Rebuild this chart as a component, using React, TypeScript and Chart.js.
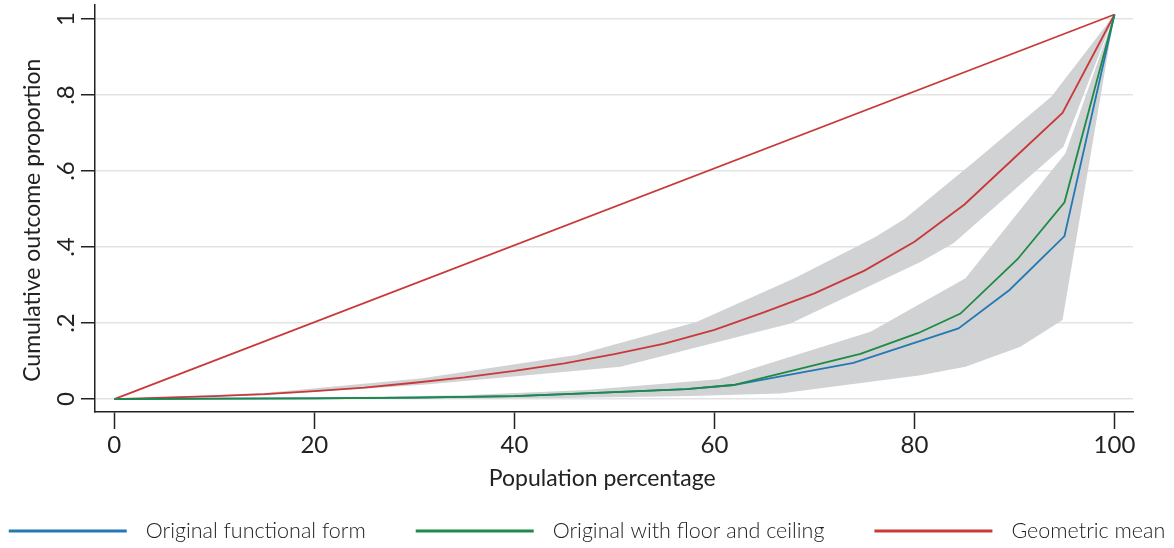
import React, { useEffect, useRef } from "react";
import { Chart, registerables } from "chart.js";

Chart.register(...registerables);

// ---- Data ----
const xTicks = [0, 20, 40, 60, 80, 100];
const yTicks = [0, 0.2, 0.4, 0.6, 0.8, 1];
const yTickLabels = ["0", ".2", ".4", ".6", ".8", "1"];

const seriesNames = ["Original functional form", "Original with floor and ceiling", "Geometric mean"];
const seriesColors = ["#2479b3", "#1d8a45", "#c9393a"];
const bandColor = "#d1d2d4";

const xTitle = "Population percentage";
const yTitle = "Cumulative outcome proportion";

const equalityX = [0, 100];
const equalityY = [0, 1.012];

const blueX = [0, 10, 20, 30, 40, 47, 57.2, 61.9, 73.9, 84.4, 89.5, 95, 100];
const blueY = [0, 0.001, 0.002, 0.004, 0.008, 0.015, 0.026, 0.037, 0.095, 0.186, 0.287, 0.429, 1.012];

const greenX = [0, 10, 20, 30, 40, 47, 57.2, 61.9, 74.6, 80.4, 84.6, 90.3, 95, 100];
const greenY = [0, 0.001, 0.002, 0.004, 0.008, 0.015, 0.026, 0.037, 0.119, 0.174, 0.225, 0.368, 0.518, 1.012];

const geoX = [0, 5, 10, 15, 20, 25, 30, 35, 40, 45, 50, 55, 60, 65, 70, 75, 80, 85, 90, 94.8, 100];
const geoY = [0, 0.004, 0.008, 0.013, 0.021, 0.03, 0.043, 0.057, 0.074, 0.094, 0.118, 0.146, 0.182, 0.229, 0.278, 0.338, 0.414, 0.512, 0.635, 0.753, 1.012];

const geoUpperX = [0, 15, 30.6, 46.2, 58.2, 68, 76, 79, 86, 93.7, 100];
const geoUpperY = [0, 0.016, 0.054, 0.116, 0.203, 0.318, 0.425, 0.474, 0.625, 0.796, 1.012];
const geoLowerX = [0, 15, 30.6, 50.6, 67.6, 80.6, 83.9, 94.9, 100];
const geoLowerY = [0, 0.01, 0.037, 0.085, 0.199, 0.361, 0.41, 0.664, 1.012];

const origUpperX = [0, 20, 35, 47.2, 60.4, 75.6, 85.1, 95.1, 100];
const origUpperY = [0, 0.004, 0.01, 0.024, 0.052, 0.177, 0.318, 0.647, 1.012];
const origLowerX = [0, 30, 45, 57.6, 66.6, 80.6, 85.1, 90.6, 94.8, 100];
const origLowerY = [0, 0.0005, 0.003, 0.008, 0.015, 0.063, 0.085, 0.138, 0.208, 1.012];

const pts = (xs: number[], ys: number[]) => xs.map((x, i) => ({ x, y: ys[i] }));

const FONT = "Lato";
const TEXT = "#222222";
const AXIS = "#222222";

const lineDs = (label: string, xs: number[], ys: number[], color: string, order: number) => ({
  label,
  data: pts(xs, ys),
  borderColor: color,
  backgroundColor: color,
  borderWidth: 1.8,
  pointRadius: 0,
  pointHoverRadius: 0,
  tension: 0,
  fill: false,
  order,
});

const bandDs = (label: string, xs: number[], ys: number[], order: number, fill: any) => ({
  label,
  data: pts(xs, ys),
  borderWidth: 0,
  borderColor: "rgba(0,0,0,0)",
  backgroundColor: bandColor,
  pointRadius: 0,
  pointHoverRadius: 0,
  tension: 0,
  fill,
  order,
});

const legendPlugin = {
  id: "bottomLegend",
  afterDraw(chart: any) {
    const ctx = chart.ctx;
    ctx.save();
    ctx.font = `300 21.5px ${FONT}`;
    const lineLen = 118;
    const gap = 19;
    const itemGap = 50;
    const widths = seriesNames.map((n) => ctx.measureText(n).width);
    const total = widths.reduce((a, w) => a + lineLen + gap + w, 0) + itemGap * (seriesNames.length - 1);
    let x = (chart.width - total) / 2;
    const y = chart.height - 17;
    seriesNames.forEach((name, i) => {
      ctx.fillStyle = seriesColors[i];
      ctx.fillRect(x, y - 1.5, lineLen, 3);
      x += lineLen + gap;
      ctx.fillStyle = TEXT;
      ctx.textBaseline = "middle";
      ctx.textAlign = "left";
      ctx.fillText(name, x, y);
      x += widths[i] + itemGap;
    });
    ctx.restore();
  },
};

// Stata centres the axis titles slightly off the plot-region centre; pad the
// title text so Chart.js' centred title lands in the same place.
const padTitle = (t: string, n: number) => t + "\u00a0".repeat(n);

export default function App() {
  const ref = useRef<HTMLCanvasElement | null>(null);
  useEffect(() => {
    document.body.style.margin = "0";
    if (!ref.current) return;
    const chart = new Chart(ref.current, {
      type: "line",
      data: {
        datasets: [
          lineDs(seriesNames[1], greenX, greenY, seriesColors[1], 0),
          lineDs(seriesNames[0], blueX, blueY, seriesColors[0], 1),
          lineDs(seriesNames[2], geoX, geoY, seriesColors[2], 2),
          lineDs("Equality", equalityX, equalityY, seriesColors[2], 3),
          bandDs("geo upper", geoUpperX, geoUpperY, 10, false),
          bandDs("geo lower", geoLowerX, geoLowerY, 11, "-1"),
          bandDs("orig upper", origUpperX, origUpperY, 12, false),
          bandDs("orig lower", origLowerX, origLowerY, 13, "-1"),
        ] as any,
      },
      options: {
        animation: false,
        responsive: false,
        events: [],
        layout: { padding: { top: 5, right: 41, bottom: 50, left: 0 } },
        plugins: {
          legend: { display: false },
          tooltip: { enabled: false },
        },
        scales: {
          x: {
            type: "linear",
            min: -1.93,
            max: 101.85,
            afterBuildTicks: (s: any) => {
              s.ticks = xTicks.map((v) => ({ value: v }));
            },
            afterFit: (s: any) => {
              s.height = 86;
            },
            ticks: {
              font: { family: FONT, size: 24 },
              color: TEXT,
              padding: 2,
              maxRotation: 0,
              autoSkip: false,
              callback: (v: any) => String(v),
            },
            grid: {
              drawOnChartArea: false,
              drawTicks: true,
              tickLength: 17,
              tickColor: AXIS,
              tickWidth: 1.5,
            },
            border: { display: true, color: AXIS, width: 1.5 },
            title: {
              display: true,
              text: padTitle(xTitle, 4),
              font: { family: FONT, size: 23 },
              color: TEXT,
              padding: { top: 0, bottom: 6 },
            },
          },
          y: {
            type: "linear",
            min: -0.034,
            max: 1.037,
            afterBuildTicks: (s: any) => {
              s.ticks = yTicks.map((v) => ({ value: v }));
            },
            afterFit: (s: any) => {
              s.width = 95;
              s.paddingTop = 0;
              s.paddingBottom = 0;
            },
            ticks: {
              font: { family: FONT, size: 24 },
              color: TEXT,
              padding: 5,
              minRotation: 90,
              maxRotation: 90,
              crossAlign: "center",
              autoSkip: false,
              callback: (v: any) => yTickLabels[yTicks.indexOf(v)] ?? "",
            },
            grid: {
              color: "#e3e3e3",
              lineWidth: 1.5,
              drawTicks: true,
              tickLength: 14,
              tickColor: AXIS,
              tickWidth: 1.5,
            },
            border: { display: true, color: AXIS, width: 1.5 },
            title: {
              display: true,
              text: padTitle(yTitle, 4),
              font: { family: FONT, size: 23 },
              color: TEXT,
              padding: { top: 19, bottom: 0 },
            },
          },
        },
      } as any,
      plugins: [legendPlugin],
    });
    return () => chart.destroy();
  }, []);
  return <canvas ref={ref} width={1174} height={548} style={{ display: "block" }} />;
}
